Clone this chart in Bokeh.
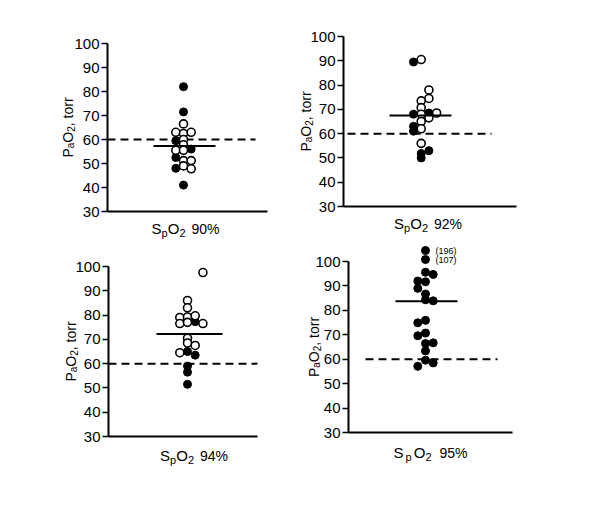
import math
from bokeh.plotting import figure
from bokeh.models import Range1d, FixedTicker, Label
from bokeh.layouts import column, row
from bokeh.embed import file_html
from bokeh.resources import INLINE

FONT = "Liberation Sans"

# ---------------- data ----------------
spo2_levels = ["90%", "92%", "94%", "95%"]
y_ticks = [30, 40, 50, 60, 70, 80, 90, 100]
threshold = 60
means = [57.3, 67.5, 72.2, 83.7]

# SpO2 90 %
p90_filled_val = [82, 71.5, 59.5, 56, 52.5, 48, 41]
p90_filled_col = [0, 0, -1, 1, -1, -1, 0]
p90_open_val = [66.5, 63, 62.5, 63, 60, 57.8, 55.5, 55.5, 51.2, 51.2, 49, 47.8]
p90_open_col = [0, -1, 0, 1, 0, 0, -1, 0, 0, 1, 0, 1]

# SpO2 92 %
p92_filled_val = [89.5, 68, 68.5, 63, 61, 53, 51.8, 50]
p92_filled_col = [-1, -1, 1, -1, -1, 1, 0, 0]
p92_open_val = [90.5, 78, 74.5, 73.5, 70.7, 68, 68.5, 66.5, 65, 62, 56]
p92_open_col = [0, 1, 1, 0, 0, 0, 2, 1, 0, 0, 0]

# SpO2 94 %
p94_filled_val = [77.3, 65, 63.5, 59, 56.5, 51.5]
p94_filled_col = [1, 0, 1, 0, 0, 0]
p94_open_val = [97.5, 86, 83, 79, 79.2, 79.7, 76.5, 77, 76.5, 70.5, 68.5, 67.5, 64.5]
p94_open_col = [2, 0, 0, -1, 0, 1, -1, 0, 2, 0, 0, 1, -1]

# SpO2 95 %  (first two points are off-scale values 196 and 107, plotted at the top)
p95_filled_val = [104.5, 100.8, 95.6, 94.7, 92, 91.7, 89, 86.7, 84.3, 83.9,
                  75.9, 74.9, 70.7, 69.6, 66.4, 66.7, 63.4, 59.6, 58.5, 57.1]
p95_filled_col = [0, 0, 0, 1, -1, 0, -1, 0, 0, 1, 0, -1, 0, -1, 0, 1, 0, 0, 1, -1]
p95_open_val = []
p95_open_col = []
p95_offscale_labels = ["(196)", "(107)"]
p95_offscale_val = [104.5, 100.8]

panels_data = [
    (p90_filled_val, p90_filled_col, p90_open_val, p90_open_col),
    (p92_filled_val, p92_filled_col, p92_open_val, p92_open_col),
    (p94_filled_val, p94_filled_col, p94_open_val, p94_open_col),
    (p95_filled_val, p95_filled_col, p95_open_val, p95_open_col),
]

# ---------------- layout constants (page pixels) ----------------
# fig: page box (x, y, w, h); org: page position of the axis origin (x=0, y=30)
cfgs = [
    dict(fig=(0, 0, 278, 243), org=(107, 211), ppu=168 / 70, xlen=160, center=76,
         mean_x=(46, 108), dash_x=(0, 148), ylab_x=-40, xlab_dx=0, xlab_base=17, gap=0),
    dict(fig=(278, 0, 268, 243), org=(343, 206), ppu=170 / 70, xlen=173, center=77.7,
         mean_x=(46, 108), dash_x=(4, 148), ylab_x=-38, xlab_dx=0, xlab_base=17, gap=0),
    dict(fig=(0, 243, 278, 240), org=(108, 436), ppu=170 / 70, xlen=149, center=79,
         mean_x=(48, 114), dash_x=(0, 149), ylab_x=-38, xlab_dx=13, xlab_base=19, gap=0),
    dict(fig=(278, 243, 268, 240), org=(348, 432), ppu=171 / 70, xlen=164, center=77,
         mean_x=(47, 109), dash_x=(17, 149), ylab_x=-35, xlab_dx=2, xlab_base=20, gap=2),
]
COL_STEP = 7.7

WID = {"S": .667, "p": .556, "O": .778, "2": .556, " ": .278, "9": .556, "0": .556,
       "4": .556, "5": .556, "%": .889, "P": .667, "a": .556, ",": .278, "t": .278,
       "o": .556, "r": .333}


def twidth(s, size):
    return sum(WID.get(c, 0.556) for c in s) * size


def add_pieces(p, pieces, start, base, vertical):
    acc = start
    for txt, size, drop, gap in pieces:
        acc += gap
        if vertical:
            lab = Label(x=0, y=30, x_offset=base + drop, y_offset=acc, angle=math.pi / 2,
                        text=txt, text_font=FONT, text_font_size=f"{size}px",
                        text_color="black", text_align="left", text_baseline="alphabetic")
        else:
            lab = Label(x=0, y=30, x_offset=acc, y_offset=-(base + drop),
                        text=txt, text_font=FONT, text_font_size=f"{size}px",
                        text_color="black", text_align="left", text_baseline="alphabetic")
        p.add_layout(lab)
        acc += twidth(txt, size)


def make_panel(i):
    c = cfgs[i]
    fv, fc, ov, oc = panels_data[i]
    fx, fy, fw, fh = c["fig"]
    ax, ay = c["org"]
    ppu = c["ppu"]
    xr = Range1d(fx - ax, fx + fw - ax)
    yr = Range1d(30 - (fy + fh - ay) / ppu, 30 + (ay - fy) / ppu)
    p = figure(width=fw, height=fh, x_range=xr, y_range=yr,
               output_backend="svg", toolbar_location=None,
               min_border=0, min_border_left=0, min_border_right=0,
               min_border_top=0, min_border_bottom=0)
    p.outline_line_color = None
    p.xgrid.visible = False
    p.ygrid.visible = False
    p.background_fill_color = "white"
    p.border_fill_color = "white"

    ya = p.yaxis[0]
    ya.fixed_location = 0
    ya.ticker = FixedTicker(ticks=y_ticks)
    ya.bounds = (30, 100)
    ya.axis_line_width = 2
    ya.axis_line_color = "black"
    ya.major_tick_in = 0
    ya.major_tick_out = 6
    ya.major_tick_line_width = 1.5
    ya.minor_tick_line_color = None
    ya.major_label_standoff = 2
    ya.major_label_text_font = FONT
    ya.major_label_text_font_size = "15px"
    ya.major_label_text_color = "black"

    xa = p.xaxis[0]
    xa.fixed_location = 30
    xa.ticker = FixedTicker(ticks=[])
    xa.bounds = (0, c["xlen"])
    xa.axis_line_width = 2
    xa.axis_line_color = "black"
    xa.major_tick_line_color = None
    xa.minor_tick_line_color = None

    cx = c["center"]
    # dashed 60 torr reference line
    p.line(x=list(c["dash_x"]), y=[threshold, threshold], line_color="black",
           line_width=2, line_dash="8 5")

    if fv:
        p.scatter(x=[cx + k * COL_STEP for k in fc], y=fv, size=8,
                  fill_color="black", line_color="black", line_width=1)
    if ov:
        p.scatter(x=[cx + k * COL_STEP for k in oc], y=ov, size=8,
                  fill_color="white", line_color="black", line_width=1.6)

    # mean line
    p.line(x=list(c["mean_x"]), y=[means[i], means[i]], line_color="black", line_width=2)

    # y axis label  P_a O_2, torr
    ypieces = [("P", 14, 0, 0), ("a", 10, 3, 0), ("O", 14, 0, 0), ("2", 10, 3, 0), (", torr", 14, 0, 0)]
    tot = sum(twidth(t, s) + g for t, s, d, g in ypieces)
    ymid = 35 * ppu
    add_pieces(p, ypieces, ymid - tot / 2, c["ylab_x"], True)

    # x axis label  S_p O_2  xx%
    g = c["gap"]
    xpieces = [("S", 15, 0, 0), ("p", 11, 4, g), ("O", 15, 0, g), ("2", 11, 4, 0),
               (" " + spo2_levels[i], 14, 0, 6 + g)]
    tot = sum(twidth(t, s) + gg for t, s, d, gg in xpieces)
    add_pieces(p, xpieces, c["xlen"] / 2 + c["xlab_dx"] - tot / 2, c["xlab_base"], False)

    if i == 3:
        for txt, v in zip(p95_offscale_labels, p95_offscale_val):
            p.add_layout(Label(x=cx + 10, y=v, text=txt, text_font=FONT,
                               text_font_size="9px", text_color="black",
                               text_align="left", text_baseline="middle"))
    return p


figs = [make_panel(i) for i in range(4)]
layout = column(row(figs[0], figs[1]), row(figs[2], figs[3]))

with open("out.html", "w") as f:
    f.write(file_html(layout, INLINE))
